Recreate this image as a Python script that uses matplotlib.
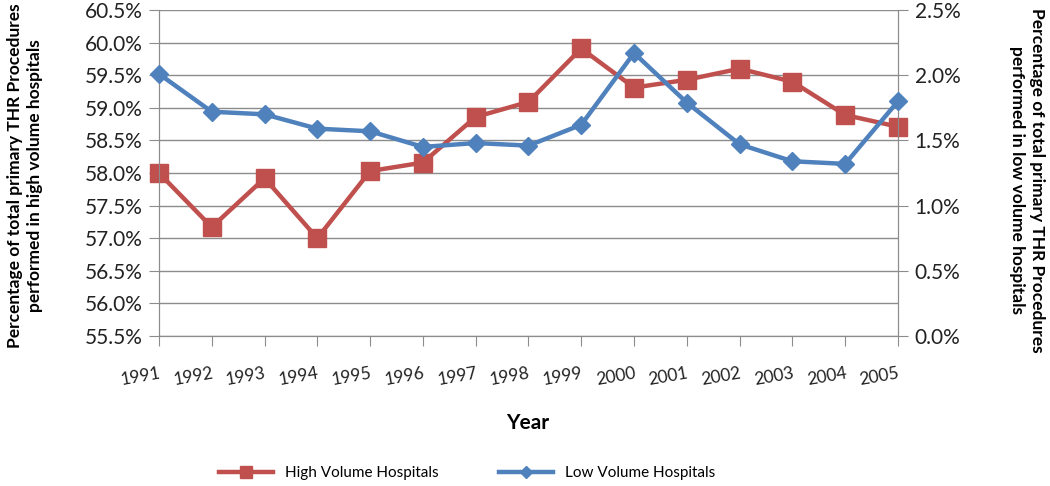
import numpy as np
import matplotlib
matplotlib.use('Agg')
import matplotlib.pyplot as plt
from matplotlib.ticker import FuncFormatter, MultipleLocator

plt.rcParams['font.family'] = ['Lato', 'DejaVu Sans']

years = ['1991', '1992', '1993', '1994', '1995', '1996', '1997', '1998',
         '1999', '2000', '2001', '2002', '2003', '2004', '2005']
high_volume = [58.00, 57.17, 57.92, 57.00, 58.03, 58.16, 58.86, 59.09,
               59.91, 59.31, 59.43, 59.60, 59.40, 58.89, 58.71]
low_volume = [2.01, 1.72, 1.70, 1.59, 1.57, 1.45, 1.48, 1.46,
              1.62, 2.17, 1.79, 1.47, 1.34, 1.32, 1.80]

red = '#C0504D'
blue = '#4F81BD'
grid_col = '#8C8C8C'

fig = plt.figure(figsize=(10.5, 4.86), dpi=100)
ax1 = fig.add_axes([0.1514, 0.3086, 0.7038, 0.6708])
ax2 = ax1.twinx()

x = np.arange(len(years))
l1, = ax1.plot(x, high_volume, color=red, lw=3.2, marker='s', ms=13,
               label='High Volume Hospitals', zorder=3, clip_on=False)
l2, = ax2.plot(x, low_volume, color=blue, lw=3.2, marker='D', ms=9.5,
               label='Low Volume Hospitals', zorder=3, clip_on=False)

ax1.set_xlim(0, len(years) - 1)
ax1.set_ylim(55.5, 60.5)
ax2.set_ylim(0, 2.5)
ax1.yaxis.set_major_locator(MultipleLocator(0.5))
ax2.yaxis.set_major_locator(MultipleLocator(0.5))
ax1.yaxis.set_major_formatter(FuncFormatter(lambda v, p: f'{v:.1f}%'))
ax2.yaxis.set_major_formatter(FuncFormatter(lambda v, p: f'{v:.1f}%'))

ax1.set_xticks(x)
ax1.set_xticklabels(years, rotation=10, ha='right', rotation_mode='anchor')
ax1.grid(axis='y', color=grid_col, lw=1)
ax1.set_axisbelow(True)

for ax in (ax1, ax2):
    ax.spines['top'].set_visible(False)
    for s in ('left', 'right', 'bottom'):
        ax.spines[s].set_color(grid_col)
    ax.tick_params(colors=grid_col, labelcolor='#222222', length=7,
                   labelsize=15, pad=5)
ax1.tick_params(axis='x', labelsize=12.5, pad=14)

fig.text(0.024, 0.638,
         'Percentage of total primary THR Procedures\nperformed in high volume hospitals',
         rotation=90, ha='center', va='center', multialignment='center',
         fontsize=12.5, fontweight='bold', linespacing=1.3)
fig.text(0.978, 0.63,
         'Percentage of total primary THR Procedures\nperformed in low volume hospitals',
         rotation=270, ha='center', va='center', multialignment='center',
         fontsize=12.5, fontweight='bold', linespacing=1.3)
fig.text(0.503, 0.13, 'Year', ha='center', va='center', fontsize=15,
         fontweight='bold')

fig.legend(handles=[l1, l2], loc='center', bbox_to_anchor=(0.445, 0.027),
           ncol=2, frameon=False, fontsize=11, handlelength=3.5,
           columnspacing=4, markerscale=0.65)

fig.savefig('out.png', dpi=100)
